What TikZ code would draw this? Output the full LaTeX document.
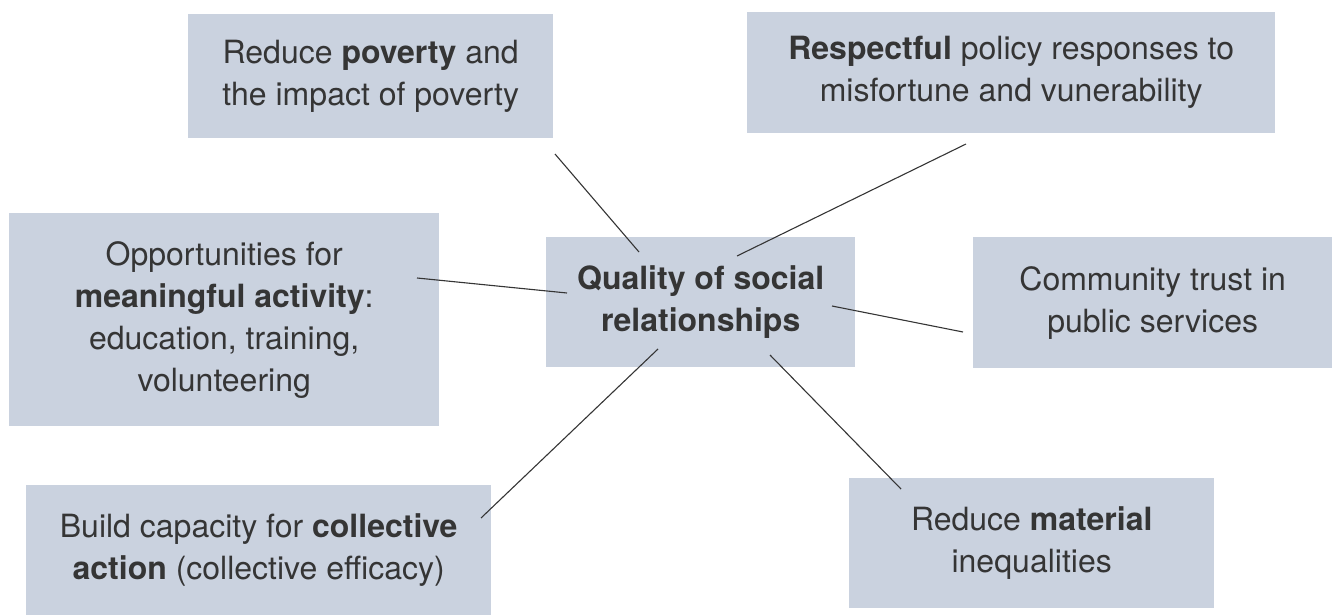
\documentclass[tikz,border=0pt]{standalone}
\usepackage{fontspec}
\setmainfont{TeX Gyre Heros}
\definecolor{boxfill}{HTML}{CAD2DF}
\definecolor{ink}{HTML}{353535}
\begin{document}
\begin{tikzpicture}[x=1pt,y=-1pt,
  card/.style={fill=boxfill, draw=none, inner sep=0pt, align=center, text=ink,
    font=\fontsize{32}{42}\selectfont, anchor=north west},
  link/.style={draw=ink, line width=1.1pt}]
\useasboundingbox (0,0) rectangle (1332,615);
\node[card, minimum width=365pt, minimum height=124pt] (pov) at (188,14)
  {Reduce \textbf{poverty} and\\the impact of poverty};
\node[card, minimum width=528pt, minimum height=121pt] (resp) at (747,12)
  {\textbf{Respectful} policy responses to\\misfortune and vunerability};
\node[card, minimum width=430pt, minimum height=213pt] (opp) at (9,213)
  {Opportunities for\\\textbf{meaningful activity}:\\education, training,\\volunteering};
\node[card, minimum width=309pt, minimum height=130pt] (qual) at (546,237)
  {\textbf{Quality of social}\\\textbf{relationships}};
\node[card, minimum width=359pt, minimum height=131pt] (comm) at (973,237)
  {Community trust in\\public services};
\node[card, minimum width=465pt, minimum height=130pt] (build) at (26,485)
  {Build capacity for \textbf{collective}\\\textbf{action} (collective efficacy)};
\node[card, minimum width=365pt, minimum height=130pt] (mat) at (849,478)
  {Reduce \textbf{material}\\inequalities};
\coordinate (a1) at (555,154);  \coordinate (b1) at (639,252);
\coordinate (a2) at (966,144);  \coordinate (b2) at (737,256);
\coordinate (a3) at (417,278);  \coordinate (b3) at (567,293);
\coordinate (a4) at (963,332);  \coordinate (b4) at (832,306);
\coordinate (a5) at (481,518);  \coordinate (b5) at (658,349);
\coordinate (a6) at (901,489);  \coordinate (b6) at (770,355);
\draw[link] (a1) -- (b1);
\draw[link] (a2) -- (b2);
\draw[link] (a3) -- (b3);
\draw[link] (a4) -- (b4);
\draw[link] (a5) -- (b5);
\draw[link] (a6) -- (b6);
\end{tikzpicture}
\end{document}
